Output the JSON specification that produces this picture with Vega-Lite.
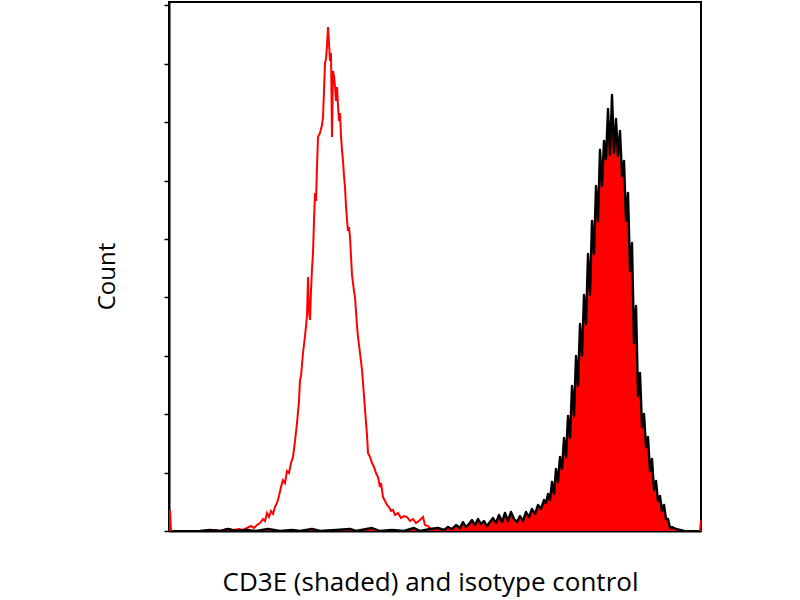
{
  "$schema": "https://vega.github.io/schema/vega-lite/v6.json",
  "width": 532,
  "height": 529,
  "autosize": "none",
  "padding": {"left": 169, "top": 2, "right": 99, "bottom": 69},
  "background": "white",
  "datasets": {
    "isotype": [
      {"segment": "left", "x": 0, "count": 0}, {"segment": "left", "x": 1, "count": 21}, {"segment": "left", "x": 2, "count": 0},
      {"segment": "main", "x": 40, "count": 0}, {"segment": "main", "x": 46, "count": 1}, {"segment": "main", "x": 52, "count": 0},
      {"segment": "main", "x": 58, "count": 2}, {"segment": "main", "x": 64, "count": 1}, {"segment": "main", "x": 70, "count": 2},
      {"segment": "main", "x": 74, "count": 1}, {"segment": "main", "x": 78, "count": 3}, {"segment": "main", "x": 82, "count": 5},
      {"segment": "main", "x": 85, "count": 3}, {"segment": "main", "x": 88, "count": 6}, {"segment": "main", "x": 91, "count": 8},
      {"segment": "main", "x": 94, "count": 12}, {"segment": "main", "x": 96, "count": 10}, {"segment": "main", "x": 98, "count": 18},
      {"segment": "main", "x": 100, "count": 14}, {"segment": "main", "x": 102, "count": 20}, {"segment": "main", "x": 104, "count": 17},
      {"segment": "main", "x": 106, "count": 24}, {"segment": "main", "x": 108, "count": 28}, {"segment": "main", "x": 110, "count": 35},
      {"segment": "main", "x": 112, "count": 44}, {"segment": "main", "x": 114, "count": 51}, {"segment": "main", "x": 116, "count": 48},
      {"segment": "main", "x": 118, "count": 60}, {"segment": "main", "x": 120, "count": 58}, {"segment": "main", "x": 122, "count": 68},
      {"segment": "main", "x": 124, "count": 74}, {"segment": "main", "x": 126, "count": 90}, {"segment": "main", "x": 128, "count": 108},
      {"segment": "main", "x": 130, "count": 130}, {"segment": "main", "x": 131, "count": 151}, {"segment": "main", "x": 132, "count": 155},
      {"segment": "main", "x": 134, "count": 178}, {"segment": "main", "x": 136, "count": 195}, {"segment": "main", "x": 138, "count": 215},
      {"segment": "main", "x": 139, "count": 254}, {"segment": "main", "x": 140, "count": 220}, {"segment": "main", "x": 141, "count": 211},
      {"segment": "main", "x": 142, "count": 240}, {"segment": "main", "x": 143, "count": 262}, {"segment": "main", "x": 144, "count": 278},
      {"segment": "main", "x": 145, "count": 310}, {"segment": "main", "x": 146, "count": 338}, {"segment": "main", "x": 147, "count": 330},
      {"segment": "main", "x": 148, "count": 364}, {"segment": "main", "x": 149, "count": 394}, {"segment": "main", "x": 151, "count": 398},
      {"segment": "main", "x": 153, "count": 406}, {"segment": "main", "x": 154, "count": 414}, {"segment": "main", "x": 155, "count": 440},
      {"segment": "main", "x": 156, "count": 468}, {"segment": "main", "x": 157, "count": 472}, {"segment": "main", "x": 158, "count": 485},
      {"segment": "main", "x": 159, "count": 504}, {"segment": "main", "x": 160, "count": 488}, {"segment": "main", "x": 161, "count": 470},
      {"segment": "main", "x": 162, "count": 478}, {"segment": "main", "x": 163, "count": 394}, {"segment": "main", "x": 164, "count": 460},
      {"segment": "main", "x": 165, "count": 455}, {"segment": "main", "x": 166, "count": 445}, {"segment": "main", "x": 167, "count": 430},
      {"segment": "main", "x": 168, "count": 444}, {"segment": "main", "x": 169, "count": 425}, {"segment": "main", "x": 170, "count": 410},
      {"segment": "main", "x": 171, "count": 418}, {"segment": "main", "x": 172, "count": 395}, {"segment": "main", "x": 173, "count": 381},
      {"segment": "main", "x": 174, "count": 370}, {"segment": "main", "x": 175, "count": 355}, {"segment": "main", "x": 176, "count": 344},
      {"segment": "main", "x": 177, "count": 325}, {"segment": "main", "x": 178, "count": 311}, {"segment": "main", "x": 179, "count": 300},
      {"segment": "main", "x": 180, "count": 304}, {"segment": "main", "x": 181, "count": 294}, {"segment": "main", "x": 183, "count": 256},
      {"segment": "main", "x": 185, "count": 240}, {"segment": "main", "x": 186, "count": 234}, {"segment": "main", "x": 188, "count": 205},
      {"segment": "main", "x": 189, "count": 194}, {"segment": "main", "x": 191, "count": 178}, {"segment": "main", "x": 193, "count": 161},
      {"segment": "main", "x": 195, "count": 135}, {"segment": "main", "x": 196, "count": 121}, {"segment": "main", "x": 198, "count": 96},
      {"segment": "main", "x": 199, "count": 78}, {"segment": "main", "x": 201, "count": 74}, {"segment": "main", "x": 203, "count": 68},
      {"segment": "main", "x": 205, "count": 64}, {"segment": "main", "x": 207, "count": 58}, {"segment": "main", "x": 209, "count": 54},
      {"segment": "main", "x": 211, "count": 44}, {"segment": "main", "x": 212, "count": 48}, {"segment": "main", "x": 214, "count": 34},
      {"segment": "main", "x": 216, "count": 30}, {"segment": "main", "x": 218, "count": 26}, {"segment": "main", "x": 220, "count": 24},
      {"segment": "main", "x": 222, "count": 20}, {"segment": "main", "x": 224, "count": 21}, {"segment": "main", "x": 226, "count": 16},
      {"segment": "main", "x": 229, "count": 18}, {"segment": "main", "x": 232, "count": 13}, {"segment": "main", "x": 235, "count": 15},
      {"segment": "main", "x": 238, "count": 14}, {"segment": "main", "x": 241, "count": 10}, {"segment": "main", "x": 244, "count": 12},
      {"segment": "main", "x": 247, "count": 8}, {"segment": "main", "x": 251, "count": 11}, {"segment": "main", "x": 254, "count": 14},
      {"segment": "main", "x": 256, "count": 6}, {"segment": "main", "x": 259, "count": 5}, {"segment": "main", "x": 261, "count": 3},
      {"segment": "main", "x": 264, "count": 0},
      {"segment": "right", "x": 531, "count": 0}, {"segment": "right", "x": 532, "count": 11}
    ],
    "cd3e": [
      {"x": 31, "count": 0}, {"x": 41, "count": 1}, {"x": 51, "count": 0}, {"x": 59, "count": 2}, {"x": 67, "count": 0},
      {"x": 77, "count": 1}, {"x": 87, "count": 0}, {"x": 99, "count": 2}, {"x": 111, "count": 0}, {"x": 123, "count": 1},
      {"x": 131, "count": 0}, {"x": 143, "count": 2}, {"x": 151, "count": 0}, {"x": 167, "count": 1}, {"x": 181, "count": 2},
      {"x": 187, "count": 0}, {"x": 203, "count": 3}, {"x": 211, "count": 0}, {"x": 223, "count": 1}, {"x": 235, "count": 0},
      {"x": 245, "count": 3}, {"x": 251, "count": 0}, {"x": 261, "count": 2}, {"x": 269, "count": 3}, {"x": 275, "count": 1},
      {"x": 279, "count": 4}, {"x": 283, "count": 2}, {"x": 287, "count": 6}, {"x": 291, "count": 3}, {"x": 294, "count": 9},
      {"x": 297, "count": 4}, {"x": 300, "count": 7}, {"x": 303, "count": 11}, {"x": 306, "count": 6}, {"x": 309, "count": 12},
      {"x": 312, "count": 7}, {"x": 315, "count": 10}, {"x": 318, "count": 5}, {"x": 321, "count": 9}, {"x": 324, "count": 13},
      {"x": 327, "count": 8}, {"x": 330, "count": 16}, {"x": 333, "count": 9}, {"x": 336, "count": 18}, {"x": 339, "count": 10},
      {"x": 342, "count": 19}, {"x": 345, "count": 12}, {"x": 348, "count": 9}, {"x": 351, "count": 15}, {"x": 354, "count": 10},
      {"x": 357, "count": 19}, {"x": 360, "count": 14}, {"x": 363, "count": 22}, {"x": 366, "count": 17}, {"x": 369, "count": 26},
      {"x": 372, "count": 22}, {"x": 375, "count": 31}, {"x": 377, "count": 28}, {"x": 379, "count": 37}, {"x": 381, "count": 31},
      {"x": 383, "count": 49}, {"x": 385, "count": 37}, {"x": 387, "count": 62}, {"x": 389, "count": 49}, {"x": 391, "count": 74},
      {"x": 393, "count": 62}, {"x": 395, "count": 93}, {"x": 397, "count": 74}, {"x": 399, "count": 115}, {"x": 401, "count": 93},
      {"x": 403, "count": 145}, {"x": 405, "count": 115}, {"x": 407, "count": 175}, {"x": 409, "count": 145}, {"x": 411, "count": 207},
      {"x": 413, "count": 175}, {"x": 415, "count": 236}, {"x": 417, "count": 207}, {"x": 419, "count": 277}, {"x": 421, "count": 236},
      {"x": 423, "count": 310}, {"x": 425, "count": 277}, {"x": 427, "count": 345}, {"x": 429, "count": 310}, {"x": 431, "count": 381},
      {"x": 433, "count": 345}, {"x": 435, "count": 390}, {"x": 437, "count": 372}, {"x": 439, "count": 422}, {"x": 441, "count": 376},
      {"x": 443, "count": 436}, {"x": 445, "count": 378}, {"x": 447, "count": 412}, {"x": 449, "count": 375}, {"x": 451, "count": 400},
      {"x": 453, "count": 355}, {"x": 455, "count": 370}, {"x": 457, "count": 310}, {"x": 459, "count": 338}, {"x": 461, "count": 260},
      {"x": 463, "count": 288}, {"x": 465, "count": 188}, {"x": 467, "count": 225}, {"x": 469, "count": 135}, {"x": 471, "count": 158},
      {"x": 473, "count": 104}, {"x": 475, "count": 117}, {"x": 477, "count": 84}, {"x": 479, "count": 94}, {"x": 481, "count": 60},
      {"x": 483, "count": 72}, {"x": 485, "count": 41}, {"x": 487, "count": 50}, {"x": 489, "count": 30}, {"x": 491, "count": 35},
      {"x": 493, "count": 20}, {"x": 495, "count": 26}, {"x": 497, "count": 12}, {"x": 499, "count": 12}, {"x": 501, "count": 3},
      {"x": 503, "count": 4}, {"x": 507, "count": 2}, {"x": 511, "count": 1}, {"x": 515, "count": 0}
    ]
  },
  "encoding": {
    "x": {
      "field": "x", "type": "quantitative",
      "scale": {"domain": [0, 532], "nice": false, "zero": false},
      "axis": {
        "title": "CD3E (shaded) and isotype control",
        "labels": false, "ticks": false, "grid": false,
        "titleFontSize": 26, "titlePadding": 38, "titleX": 261
      }
    },
    "y": {
      "field": "count", "type": "quantitative",
      "scale": {"domain": [0, 529], "nice": false, "zero": true},
      "axis": {
        "title": "Count",
        "values": [0, 58, 117, 175, 234, 292, 350, 409, 467, 526],
        "labels": false, "ticks": true, "tickSize": 5, "tickWidth": 1.5, "tickColor": "#000",
        "grid": false, "titleFontSize": 24, "titlePadding": 44, "titleY": 274
      }
    }
  },
  "layer": [
    {
      "data": {"name": "isotype"},
      "mark": {"type": "line", "color": "#ff0000", "strokeWidth": 2, "clip": true},
      "encoding": {"detail": {"field": "segment", "type": "nominal"}}
    },
    {
      "data": {"name": "cd3e"},
      "mark": {"type": "area", "color": "#ff0000", "clip": true},
      "encoding": {}
    },
    {
      "data": {"name": "cd3e"},
      "mark": {"type": "line", "color": "#000000", "strokeWidth": 2.4, "strokeJoin": "round", "clip": true},
      "encoding": {}
    }
  ],
  "config": {
    "view": {"stroke": "#000", "strokeWidth": 2},
    "axis": {
      "domainColor": "#000", "domainWidth": 2,
      "titleFont": "Open Sans", "titleFontWeight": "normal", "titleColor": "#000"
    }
  }
}
